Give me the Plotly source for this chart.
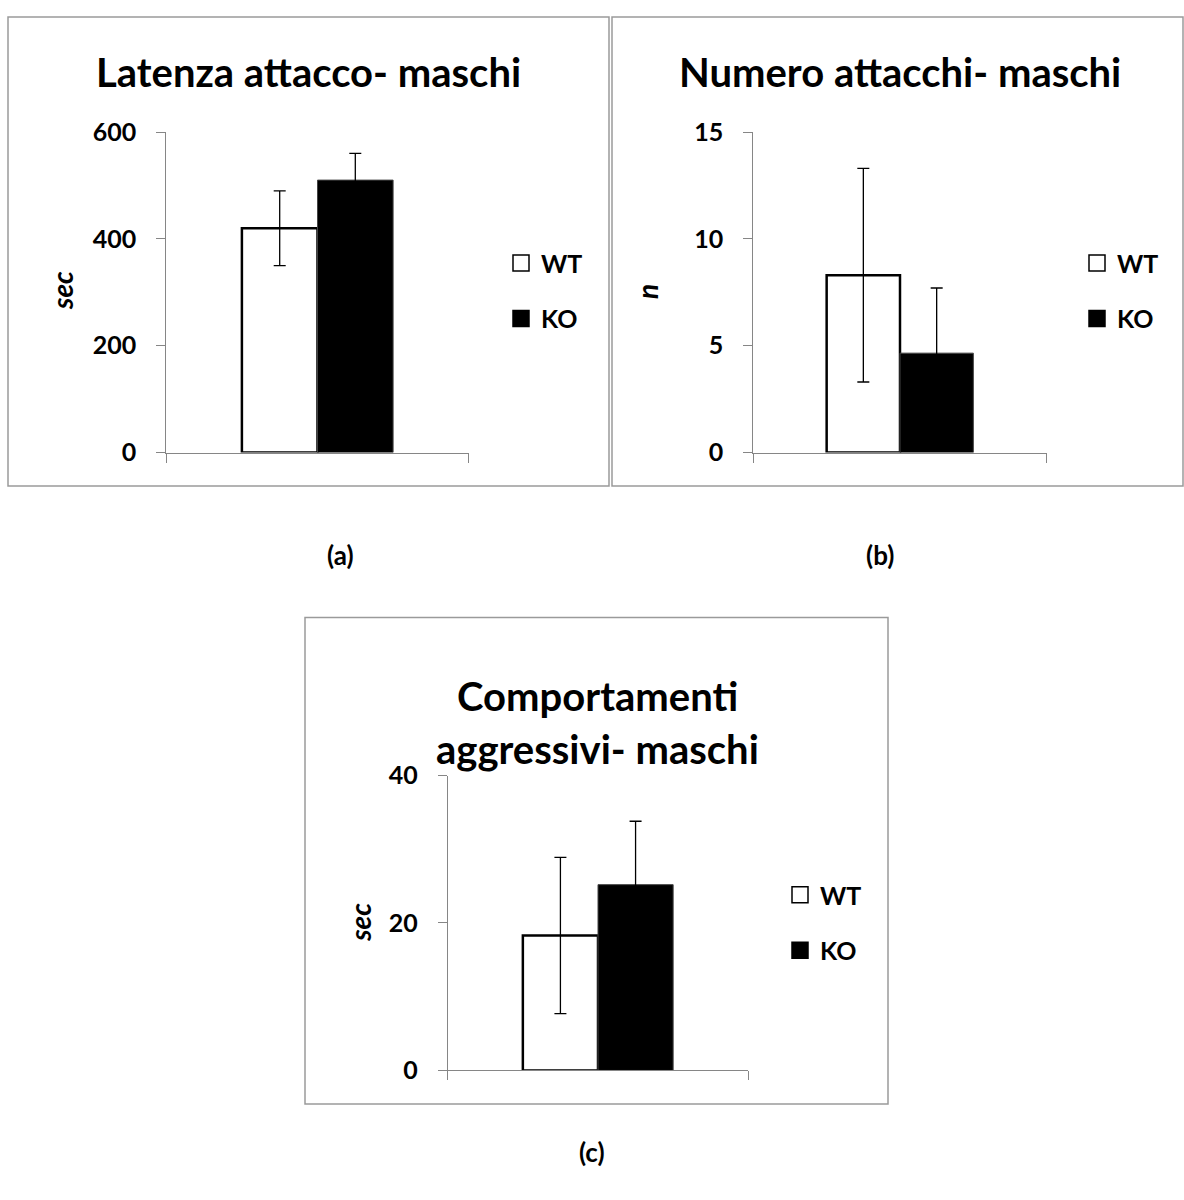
import plotly.graph_objects as go

# ---- data -------------------------------------------------------------
groups = ["WT", "KO"]

latenza_mean = [420, 510]      # sec
latenza_err = [70, 50]

attacchi_mean = [8.3, 4.65]    # n
attacchi_err = [5.0, 3.05]

aggressivi_mean = [18.3, 25.2]  # sec
aggressivi_err = [10.6, 8.6]

panel_titles = [
    ["Latenza attacco- maschi"],
    ["Numero attacchi- maschi"],
    ["Comportamenti", "aggressivi- maschi"],
]
y_units = ["sec", "n", "sec"]
y_ticks = [[0, 200, 400, 600], [0, 5, 10, 15], [0, 20, 40]]
panel_tags = ["(a)", "(b)", "(c)"]

means = [latenza_mean, attacchi_mean, aggressivi_mean]
errors = [latenza_err, attacchi_err, aggressivi_err]

# ---- page geometry (pixels) ------------------------------------------
W, H = 1184, 1200
FONT = "Lato"
AXIS_GREY = "#868686"
FRAME_GREY = "#9a9a9a"

panels = [
    dict(plot=(166.3, 119, 468.7, 447.7), frame=(8, 1, 609, 482),
         title=[(308, 57)], unit=(62, 282), tag=(340, 553), legend=(501, 230)),
    dict(plot=(753.3, 119, 1046.7, 447.7), frame=(612, 1, 1183, 482),
         title=[(900, 57)], unit=(647, 283), tag=(880, 553), legend=(1077, 230)),
    dict(plot=(447.7, 779, 748.3, 1081.5), frame=(305, 617, 888, 1116),
         title=[(597, 697), (597, 752)], unit=(360, 930), tag=(592, 1165),
         legend=(780, 878)),
]


def fx(v):
    return v / W


def fy(v):
    return 1 - v / H


fills = {"WT": "white", "KO": "black"}
outlines = {"WT": dict(color="black", width=2.5), "KO": dict(color="#444444", width=1)}

fig = go.Figure()
shapes, annotations = [], []
layout_axes = {}

for i, p in enumerate(panels):
    n = "" if i == 0 else str(i + 1)
    xa, ya = "x" + n, "y" + n
    leg = "legend" + n

    for j, g in enumerate(groups):
        fig.add_trace(go.Bar(
            x=[0], y=[means[i][j]], name=g,
            xaxis=xa, yaxis=ya,
            marker=dict(color=fills[g], line=outlines[g]),
            error_y=dict(type="data", array=[errors[i][j]], color="black",
                         thickness=1.3, width=6),
            showlegend=False,
        ))
    # legend entries
    for j, g in enumerate(groups):
        fig.add_trace(go.Scatter(
            x=[None], y=[None], mode="markers", name=g,
            xaxis=xa, yaxis=ya, legend=leg, legendgroup=f"{g}{i}",
            marker=dict(symbol="square", size=16, color=fills[g],
                        line=dict(color="black", width=1.5)),
        ))

    l, t, r, b = p["plot"]
    layout_axes["xaxis" + n] = dict(
        domain=[fx(l), fx(r)], range=[-0.5, 0.5], anchor=ya,
        showline=True, linecolor=AXIS_GREY, linewidth=1,
        ticks="outside", tickvals=[-0.5, 0.5], ticklen=9, tickcolor=AXIS_GREY,
        showticklabels=False, showgrid=False, zeroline=False, fixedrange=True,
    )
    yt = y_ticks[i]
    layout_axes["yaxis" + n] = dict(
        domain=[fy(b), fy(t)], range=[yt[0], yt[-1]], anchor=xa,
        showline=True, linecolor=AXIS_GREY, linewidth=1,
        ticks="outside", tickvals=yt, ticklen=9, tickcolor=AXIS_GREY,
        ticklabelstandoff=15,
        tickfont=dict(family=FONT, size=25, color="black", weight="bold"),
        showgrid=False, zeroline=False, fixedrange=True,
    )
    lx, ly = p["legend"]
    layout_axes[leg] = dict(
        x=fx(lx), y=fy(ly), xanchor="left", yanchor="top",
        font=dict(family=FONT, size=25, color="black", weight="bold"),
        bgcolor="rgba(0,0,0,0)", borderwidth=0,
        traceorder="grouped", tracegroupgap=20, itemclick=False,
    )

    fl, ft, fr, fb = p["frame"]
    shapes.append(dict(type="rect", xref="paper", yref="paper",
                       x0=fx(fl), x1=fx(fr), y0=fy(fb), y1=fy(ft),
                       line=dict(color=FRAME_GREY, width=1.5)))

    for line_text, (tx, ty) in zip(panel_titles[i], p["title"]):
        annotations.append(dict(
            text=line_text, x=fx(tx), y=fy(ty), xref="paper", yref="paper",
            showarrow=False, xanchor="center", yanchor="middle",
            font=dict(family=FONT, size=40, color="black", weight="bold"),
        ))
    ux, uy = p["unit"]
    annotations.append(dict(
        text=f"<i>{y_units[i]}</i>", x=fx(ux), y=fy(uy), xref="paper", yref="paper",
        showarrow=False, textangle=-90, xanchor="center", yanchor="middle",
        font=dict(family=FONT, size=28, color="black", weight="bold"),
    ))
    gx, gy = p["tag"]
    annotations.append(dict(
        text=panel_tags[i], x=fx(gx), y=fy(gy), xref="paper", yref="paper",
        showarrow=False, xanchor="center", yanchor="middle",
        font=dict(family=FONT, size=26, color="black", weight="bold"),
    ))

fig.update_layout(
    width=W, height=H,
    margin=dict(l=0, r=0, t=0, b=0),
    paper_bgcolor="white", plot_bgcolor="white",
    barmode="group", bargap=0.5, bargroupgap=0,
    shapes=shapes, annotations=annotations,
    **layout_axes,
)

fig.write_html("out.html", config={"displayModeBar": False})
